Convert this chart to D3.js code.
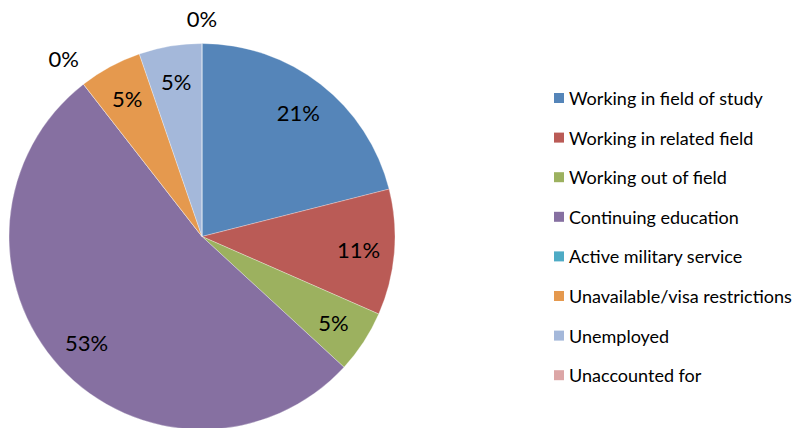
<!DOCTYPE html>
<html>
<head>
<meta charset="utf-8">
<script src="https://cdn.jsdelivr.net/npm/d3@7"></script>
<style>
  html, body { margin: 0; padding: 0; background: #ffffff; }
  svg { display: block; }
  text { font-family: Lato, "Open Sans", sans-serif; fill: #000000; }
</style>
</head>
<body>
<div id="chart"></div>
<script>
// Graduate outcomes (counts, total 19)
const categories = [
    'Working in field of study',
    'Working in related field',
    'Working out of field',
    'Continuing education',
    'Active military service',
    'Unavailable/visa restrictions',
    'Unemployed',
    'Unaccounted for'
];
const counts = [4, 2, 1, 10, 0, 1, 1, 0];
const colors = ['#5585b9', '#ba5b56', '#9cb15f', '#8670a1', '#4eabc5', '#e5994e', '#a4b8da', '#dca6a6'];

const width = 796;
const height = 428;
const cx = 202;
const cy = 236.5;
const radius = 193;

const svg = d3.select('#chart')
    .append('svg')
    .attr('width', width)
    .attr('height', height);

const total = d3.sum(counts);
const rows = categories.map((name, i) => ({ name, value: counts[i], color: colors[i] }));

const pie = d3.pie()
    .value((d) => d.value)
    .sort(null);

const arcs = pie(rows);
const arc = d3.arc().innerRadius(0).outerRadius(radius);

const g = svg.append('g').attr('transform', `translate(${cx},${cy})`);

g.selectAll('path')
    .data(arcs)
    .join('path')
    .attr('d', arc)
    .attr('fill', (d) => d.data.color)
    .attr('stroke', '#ffffff')
    .attr('stroke-opacity', 0.5)
    .attr('stroke-width', 0.6);

// Percentage labels: inside for non-empty slices, outside for 0% ones
const labelR = 157;
const labelSize = 22;
arcs.forEach((d) => {
    const pct = Math.round(d.data.value / total * 100) + '%';
    const a = (d.startAngle + d.endAngle) / 2;
    const t = g.append('text')
        .attr('font-size', labelSize)
        .attr('text-anchor', 'middle')
        .attr('dominant-baseline', 'central')
        .text(pct);
    let r = labelR;
    if (d.data.value === 0) {
        const w = t.node().getComputedTextLength() / 2;
        const h = 11;
        r = radius + 14 + Math.abs(Math.sin(a)) * w + Math.abs(Math.cos(a)) * h;
    }
    t.attr('x', Math.sin(a) * r).attr('y', -Math.cos(a) * r);
});

// Legend
const legend = svg.append('g').attr('transform', 'translate(554,98)');
const rowStep = 39.6;
const item = legend.selectAll('g')
    .data(rows)
    .join('g')
    .attr('transform', (d, i) => `translate(0,${i * rowStep})`);

item.append('rect')
    .attr('x', 0)
    .attr('y', -5)
    .attr('width', 10)
    .attr('height', 10)
    .attr('fill', (d) => d.color);

item.append('text')
    .attr('x', 15)
    .attr('y', 0)
    .attr('dominant-baseline', 'central')
    .attr('font-size', 18)
    .text((d) => d.name);
</script>
</body>
</html>
